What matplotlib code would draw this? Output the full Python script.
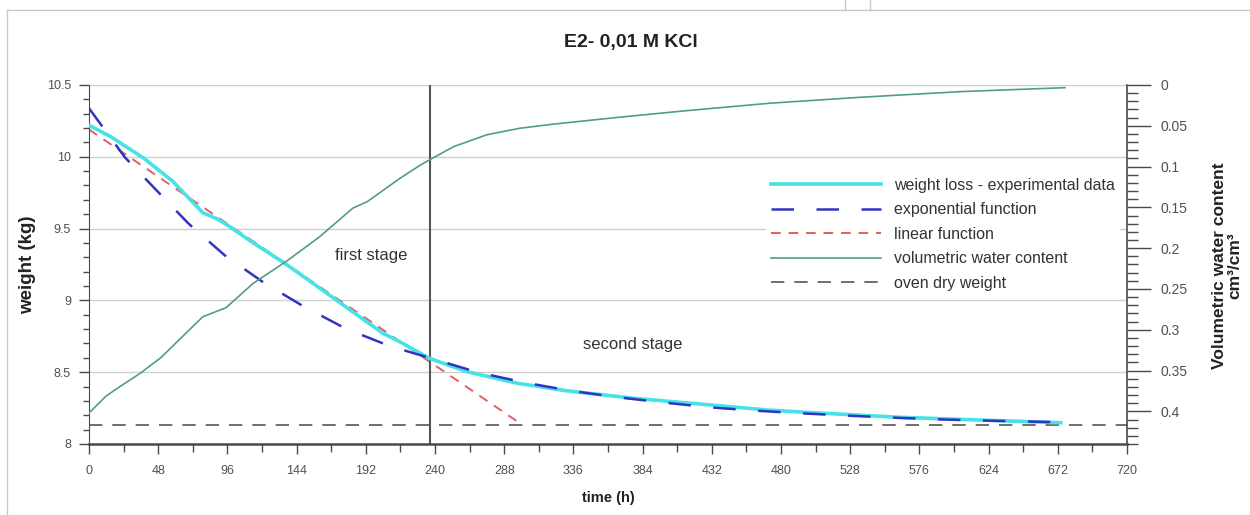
import matplotlib
matplotlib.use("Agg")
import matplotlib.pyplot as plt
from matplotlib.ticker import MultipleLocator, FuncFormatter
from matplotlib.lines import Line2D

plt.rcParams['font.family'] = ['Liberation Sans', 'DejaVu Sans']

# weight loss - experimental data (h, kg)
exp_data_t = [0, 15, 38, 58, 79, 89, 96, 114, 137, 158, 183, 204, 216, 236,
              262, 297, 331, 378, 424, 470, 493, 562, 632, 674]
exp_data_w = [10.22, 10.14, 9.99, 9.83, 9.61, 9.567, 9.524, 9.40, 9.25, 9.10,
              8.92, 8.77, 8.71, 8.597, 8.504, 8.423, 8.371, 8.318, 8.278,
              8.237, 8.223, 8.186, 8.162, 8.148]

# exponential function
expo_t = [0, 11, 25, 46, 69, 94, 121, 149, 178, 208, 241, 270, 302, 335, 367,
          400, 432, 464, 497, 529, 561, 594, 626, 658, 672]
expo_w = [10.338, 10.187, 9.995, 9.775, 9.535, 9.315, 9.125, 8.957, 8.804,
          8.684, 8.585, 8.498, 8.428, 8.369, 8.325, 8.287, 8.254, 8.231,
          8.212, 8.196, 8.182, 8.170, 8.162, 8.155, 8.152]

# linear function
lin_t = [0, 301]
lin_w = [10.19, 8.13]

# volumetric water content (cm3/cm3)
vwc_t = [0, 12, 22, 35, 50, 65, 79, 95, 114, 137, 160, 183, 193, 216, 230, 238,
         253, 276, 299, 322, 368, 415, 472, 535, 604, 677]
vwc = [0.402, 0.381, 0.369, 0.354, 0.334, 0.308, 0.284, 0.273, 0.243, 0.216,
       0.186, 0.151, 0.143, 0.114, 0.098, 0.090, 0.0755, 0.061, 0.053, 0.048,
       0.0395, 0.0314, 0.0224, 0.0151, 0.0082, 0.0033]

oven_dry = 8.13
stage_split = 236.5

fig = plt.figure(figsize=(12.5, 5.15), dpi=100)
ax = fig.add_axes([0.0712, 0.1379, 0.8304, 0.6971])
ax2 = ax.twinx()

tick_col = '#505050'
spine_col = '#4a4a4a'

ax.plot(lin_t, lin_w, color='#e06060', lw=1.4, ls=(0, (5, 4)), zorder=2,
        label='linear function')
ax.plot(exp_data_t, exp_data_w, color='#45e2e8', lw=2.6, zorder=3,
        label='weight loss - experimental data')
ax.plot(expo_t, expo_w, color='#3035c0', lw=1.8, ls=(0, (9, 9)), zorder=4,
        label='exponential function')
ax.axhline(oven_dry, color='#555555', lw=1.2, ls=(0, (8, 6)), zorder=2,
           label='oven dry weight')
ax.axvline(stage_split, color='#555555', lw=1.5, zorder=2)

ax2.plot(vwc_t, vwc, color='#4f9f7f', lw=1.2, label='volumetric water content')

ax.set_xlim(0, 720)
ax.set_ylim(8, 10.5)
ax2.set_ylim(0.44, 0)

ax.xaxis.set_major_locator(MultipleLocator(48))
ax.xaxis.set_minor_locator(MultipleLocator(24))
ax.yaxis.set_major_locator(MultipleLocator(0.5))
ax.yaxis.set_minor_locator(MultipleLocator(0.1))
ax2.yaxis.set_major_locator(MultipleLocator(0.05))
ax2.yaxis.set_minor_locator(MultipleLocator(0.01))
ax.yaxis.set_major_formatter(FuncFormatter(lambda v, p: f'{v:g}'))
ax2.yaxis.set_major_formatter(FuncFormatter(lambda v, p: f'{abs(v):g}'))

ax.yaxis.grid(True, color='#cfcfcf', lw=1)
ax.set_axisbelow(True)

ax.tick_params(axis='y', which='major', length=7, width=1, color=spine_col,
               labelsize=9, labelcolor=tick_col, pad=6)
ax.tick_params(axis='y', which='minor', length=4, width=1, color=spine_col)
ax.tick_params(axis='x', which='major', length=7, width=1, color=spine_col,
               labelsize=9, labelcolor=tick_col, pad=8)
ax.tick_params(axis='x', which='minor', length=6, width=1, color=spine_col)
ax2.tick_params(axis='y', which='major', length=17, width=1, color=spine_col,
                labelsize=10, labelcolor=tick_col, pad=7)
ax2.tick_params(axis='y', which='minor', length=8, width=1, color=spine_col)

for a in (ax, ax2):
    a.spines['top'].set_visible(False)
ax.spines['right'].set_visible(False)
ax2.spines['left'].set_visible(False)
ax2.spines['bottom'].set_visible(False)
ax.spines['left'].set_color(spine_col)
ax.spines['bottom'].set_color(spine_col)
ax.spines['bottom'].set_linewidth(1.8)
ax2.spines['right'].set_color(spine_col)
ax2.spines['right'].set_linewidth(1.2)

ax.set_xlabel('time (h)', fontsize=10.5, fontweight='bold', color='#222222',
              labelpad=10)
ax.set_ylabel('weight (kg)', fontsize=13.5, fontweight='bold', color='#222222',
              labelpad=8)
fig.text(1227 / 1250, 1 - 266 / 515, 'Volumetric water content\ncm\u00b3/cm\u00b3',
         rotation=90, ha='center', va='center', fontsize=12.5, fontweight='bold',
         color='#222222', linespacing=1.05)
fig.text(631 / 1250, 1 - 42 / 515, 'E2- 0,01 M KCl', ha='center', va='center',
         fontsize=14, fontweight='bold', color='#222222')

ax.text(196, 9.31, 'first stage', ha='center', va='center', fontsize=12,
        color='#333333')
ax.text(377, 8.696, 'second stage', ha='center', va='center', fontsize=12,
        color='#333333')

h1 = ax.get_lines()
handles = [h1[1], h1[2], h1[0], ax2.get_lines()[0], h1[3]]
leg = ax2.legend(handles=handles, labels=[h.get_label() for h in handles],
                 loc='upper left', bbox_to_anchor=(0.652, 0.755), fontsize=11.5,
                 handlelength=6.9, handletextpad=0.82, labelspacing=0.6,
                 frameon=True, borderpad=0.3, borderaxespad=0)
leg.get_frame().set_edgecolor('none')
leg.get_frame().set_facecolor('white')
leg.get_frame().set_alpha(1)
for t in leg.get_texts():
    t.set_color('#333333')

# page frame
tr = fig.transFigure
W, H = 1250, 515
for xs, ys in [([7, W], [H - 10, H - 10]), ([7, 7], [0, H - 10]),
               ([845, 845], [H - 10, H]), ([870, 870], [H - 10, H])]:
    fig.add_artist(Line2D([x / W for x in xs], [y / H for y in ys],
                          transform=tr, color='#c8c8c8', lw=1))

fig.savefig('out.png', dpi=100, facecolor='white')
